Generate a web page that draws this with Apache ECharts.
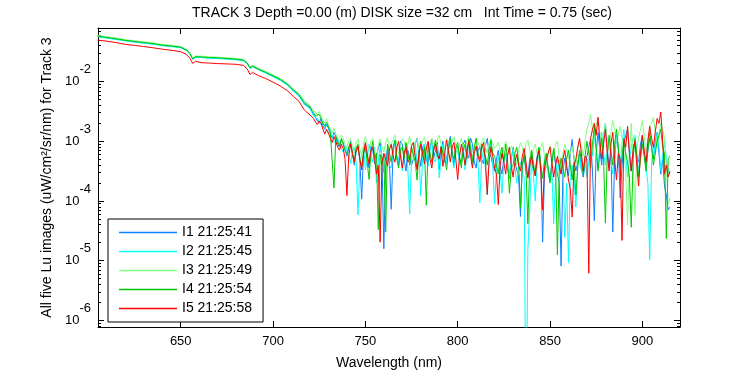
<!DOCTYPE html>
<html>
<head>
<meta charset="utf-8">
<title>Track 3 Lu</title>
<script src="https://cdn.jsdelivr.net/npm/echarts@6.0.0/dist/echarts.min.js"></script>
<style>
html,body{margin:0;padding:0;background:#fff}
#main{width:750px;height:375px}
</style>
</head>
<body>
<div id="main"></div>
<script>
// wavelength (nm): coarse where the curves are smooth, 1 nm where they are noisy
var wavelength = [605,610,615,620,625,630,635,640,645,650,653,655,656.5,658,661,665,670,675,680,684,686,687.5,689,692,696,700,704,708,711,714,717,720,
  721,722,723,724,725,726,727,728,729,730,731,732,733,734,735,736,737,738,739,740,
  741,742,743,744,745,746,747,748,749,750,751,752,753,754,755,756,757,758,759,760,
  761,762,763,764,765,766,767,768,769,770,771,772,773,774,775,776,777,778,779,780,
  781,782,783,784,785,786,787,788,789,790,791,792,793,794,795,796,797,798,799,800,
  801,802,803,804,805,806,807,808,809,810,811,812,813,814,815,816,817,818,819,820,
  821,822,823,824,825,826,827,828,829,830,831,832,833,834,835,836,837,838,839,840,
  841,842,843,844,845,846,847,848,849,850,851,852,853,854,855,856,857,858,859,860,
  861,862,863,864,865,866,867,868,869,870,871,872,873,874,875,876,877,878,879,880,
  881,882,883,884,885,886,887,888,889,890,891,892,893,894,895,896,897,898,899,900,
  901,902,903,904,905,906,907,908,909,910,911,912,913,914,915]

// log10 of Lu, one array per image
var logI1 = [-1.245,-1.268,-1.290,-1.314,-1.335,-1.352,-1.370,-1.394,-1.410,-1.430,-1.475,-1.535,-1.625,-1.590,-1.592,-1.603,-1.609,-1.620,-1.630,-1.648,-1.695,-1.774,-1.748,-1.795,-1.850,-1.912,-1.972,-2.058,-2.150,-2.232,-2.370,-2.440,
  -2.50,-2.56,-2.60,-2.66,-2.70,-2.62,-2.74,-2.80,-2.72,-2.78,-2.88,-2.95,-2.85,-2.92,-3.05,-3.10,-2.98,-3.02,-3.15,-3.25,
  -3.12,-3.00,-3.20,-3.40,-3.18,-3.10,-3.30,-3.97,-3.22,-3.05,-3.28,-3.45,-3.08,-3.15,-3.38,-3.35,-3.12,-3.02,-3.30,-4.80,
  -3.40,-3.10,-3.32,-4.14,-3.20,-2.98,-3.25,-3.40,-3.00,-3.05,-3.30,-3.50,-3.15,-3.12,-3.40,-3.30,-3.05,-2.95,-3.20,-3.42,
  -3.10,-3.05,-3.32,-3.38,-3.10,-2.97,-3.28,-3.25,-3.02,-3.48,-3.22,-3.00,-3.35,-3.30,-3.05,-2.92,-3.18,-3.40,-3.12,-3.08,
  -3.30,-3.35,-3.05,-2.98,-3.22,-3.28,-2.95,-3.05,-3.35,-3.45,-3.15,-3.10,-3.30,-3.38,-3.08,-2.95,-3.20,-3.25,-3.40,-3.50,
  -3.30,-3.15,-3.42,-3.55,-3.25,-3.20,-3.45,-3.62,-3.30,-3.10,-3.35,-3.48,-3.60,-4.26,-3.40,-3.25,-3.50,-3.60,-3.30,-3.18,
  -3.45,-3.50,-3.25,-3.12,-3.40,-4.69,-3.55,-3.30,-3.45,-3.65,-3.35,-3.15,-3.40,-3.55,-3.70,-5.09,-3.50,-3.28,-3.45,-3.58,
  -3.20,-2.97,-3.30,-3.50,-3.35,-3.20,-3.45,-3.60,-3.40,-3.25,-3.10,-2.95,-3.50,-4.33,-3.20,-2.85,-3.15,-3.40,-2.95,-2.70,
  -3.10,-3.45,-3.20,-4.52,-3.30,-2.90,-3.15,-3.95,-3.40,-3.05,-2.90,-2.80,-3.20,-3.50,-3.10,-3.00,-3.25,-3.35,-3.05,-2.90,
  -3.20,-3.45,-3.15,-2.95,-3.10,-3.30,-3.00,-2.85,-3.20,-3.55,-3.30,-3.75,-3.90,-4.15,-4.10]
var logI2 = [-1.250,-1.272,-1.296,-1.320,-1.340,-1.358,-1.375,-1.400,-1.415,-1.436,-1.480,-1.540,-1.630,-1.596,-1.598,-1.608,-1.614,-1.625,-1.636,-1.654,-1.700,-1.780,-1.755,-1.802,-1.858,-1.920,-1.982,-2.068,-2.160,-2.245,-2.390,-2.455,
  -2.52,-2.58,-2.55,-2.62,-2.68,-2.72,-2.66,-2.76,-2.82,-2.88,-2.80,-2.92,-3.00,-3.05,-2.95,-3.04,-3.12,-3.18,-3.08,-3.05,
  -3.22,-3.38,-3.15,-3.10,-3.35,-4.23,-3.40,-3.20,-3.10,-3.48,-3.30,-3.05,-3.22,-3.35,-3.10,-3.70,-3.35,-3.08,-3.25,-3.52,
  -3.20,-3.15,-3.40,-3.45,-3.10,-3.02,-3.30,-3.35,-3.12,-3.50,-3.25,-3.05,-3.45,-4.22,-3.30,-3.12,-3.02,-3.40,-3.20,-3.91,
  -3.30,-3.05,-3.25,-3.42,-3.15,-3.00,-3.30,-3.35,-3.05,-3.61,-3.28,-3.05,-3.20,-3.38,-3.12,-2.98,-3.30,-3.45,-3.20,-3.10,
  -3.40,-3.30,-3.05,-3.48,-3.25,-3.02,-3.20,-3.40,-3.15,-3.10,-3.35,-4.03,-3.30,-3.15,-3.45,-3.90,-3.25,-3.05,-3.40,-4.05,
  -3.45,-3.25,-3.50,-3.87,-3.35,-3.20,-3.40,-3.60,-3.30,-3.15,-3.45,-3.70,-3.40,-3.35,-3.55,-3.60,-8.00,-4.82,-4.15,-3.30,
  -3.55,-4.00,-3.40,-3.20,-3.50,-3.62,-3.30,-3.25,-3.55,-3.68,-3.45,-4.38,-3.60,-3.30,-3.50,-3.55,-3.35,-4.61,-3.70,-5.03,
  -3.60,-3.40,-3.65,-4.10,-3.40,-3.25,-3.50,-3.55,-3.30,-3.60,-3.35,-3.05,-3.25,-2.90,-3.15,-3.45,-3.10,-2.85,-3.20,-3.40,
  -3.15,-2.95,-3.30,-3.55,-3.20,-2.88,-3.10,-3.40,-3.05,-2.80,-3.25,-3.60,-3.30,-3.10,-2.95,-2.90,-3.20,-3.50,-3.25,-3.00,
  -3.20,-3.45,-3.70,-4.99,-3.40,-3.05,-3.20,-2.85,-3.10,-3.50,-3.25,-3.00,-3.30,-3.50,-3.55]
var logI3 = [-1.228,-1.250,-1.272,-1.298,-1.318,-1.336,-1.352,-1.378,-1.392,-1.412,-1.458,-1.518,-1.608,-1.572,-1.576,-1.585,-1.592,-1.602,-1.612,-1.630,-1.678,-1.756,-1.730,-1.776,-1.832,-1.890,-1.950,-2.035,-2.125,-2.200,-2.320,-2.400,
  -2.45,-2.48,-2.52,-2.56,-2.50,-2.58,-2.64,-2.70,-2.62,-2.72,-2.80,-2.86,-2.78,-2.88,-2.95,-2.98,-2.90,-2.96,-3.05,-3.10,
  -3.00,-2.95,-3.08,-3.20,-3.02,-2.96,-3.12,-3.25,-3.05,-2.92,-3.05,-3.15,-3.00,-2.95,-3.20,-3.28,-3.05,-2.96,-3.10,-3.18,
  -3.02,-2.94,-3.12,-3.10,-2.98,-2.90,-3.05,-3.22,-3.08,-2.95,-3.00,-3.15,-3.05,-2.92,-3.10,-3.30,-3.00,-2.96,-3.15,-3.12,
  -3.00,-2.93,-3.10,-3.20,-3.02,-2.95,-3.12,-3.08,-2.98,-2.90,-3.05,-3.25,-3.10,-2.96,-3.02,-3.12,-3.00,-2.92,-3.08,-3.22,
  -3.05,-2.95,-3.10,-3.15,-3.00,-2.92,-3.05,-3.28,-3.10,-2.96,-3.02,-3.10,-3.00,-2.94,-3.08,-3.20,-3.05,-2.95,-3.02,-3.12,
  -3.08,-3.02,-3.15,-3.30,-3.10,-3.00,-3.12,-3.22,-3.08,-3.05,-3.20,-3.40,-3.15,-3.02,-3.10,-3.25,-3.05,-2.98,-3.15,-3.35,
  -3.12,-3.05,-3.20,-3.28,-3.10,-3.02,-3.25,-3.45,-3.20,-3.08,-3.15,-3.25,-3.05,-3.00,-3.30,-3.50,-3.20,-3.05,-3.15,-3.30,
  -3.20,-3.10,-3.25,-3.40,-3.15,-2.98,-3.10,-3.25,-3.00,-2.80,-2.70,-2.55,-2.80,-2.95,-2.75,-2.60,-2.85,-3.10,-2.90,-2.70,
  -2.95,-3.15,-2.85,-2.65,-2.80,-3.00,-2.90,-2.75,-2.95,-3.20,-3.50,-4.40,-3.20,-2.70,-3.30,-4.24,-3.10,-2.95,-2.80,-2.65,
  -2.90,-3.20,-2.95,-2.75,-2.70,-2.60,-2.85,-3.10,-2.90,-2.70,-2.80,-2.95,-3.40,-4.05,-3.95]
var logI4 = [-1.240,-1.262,-1.285,-1.310,-1.330,-1.348,-1.365,-1.390,-1.405,-1.425,-1.470,-1.530,-1.620,-1.585,-1.588,-1.598,-1.604,-1.615,-1.625,-1.643,-1.690,-1.769,-1.743,-1.790,-1.845,-1.905,-1.965,-2.050,-2.140,-2.220,-2.350,-2.420,
  -2.48,-2.52,-2.58,-2.60,-2.55,-2.62,-2.70,-2.75,-2.68,-2.76,-2.85,-2.85,-3.78,-2.92,-3.00,-3.08,-2.95,-3.05,-3.15,-3.20,
  -3.10,-3.02,-3.22,-3.35,-3.12,-3.05,-3.30,-3.42,-3.20,-3.10,-3.35,-3.64,-3.20,-3.00,-3.30,-3.20,-4.48,-3.22,-3.40,-3.25,
  -4.52,-3.05,-3.20,-3.35,-3.10,-2.98,-3.28,-3.45,-3.15,-3.10,-3.30,-3.02,-3.20,-3.40,-3.10,-3.08,-3.35,-3.65,-3.20,-3.00,
  -3.25,-3.10,-4.07,-3.05,-3.20,-3.35,-3.10,-2.98,-3.25,-3.30,-3.08,-3.05,-3.30,-3.48,-3.15,-2.96,-3.20,-3.30,-3.10,-3.02,
  -3.25,-3.45,-3.15,-3.05,-3.30,-2.96,-3.12,-3.35,-3.10,-2.95,-3.20,-3.30,-3.05,-3.02,-3.25,-3.40,-3.15,-2.98,-3.20,-3.25,
  -3.40,-3.55,-3.25,-3.10,-3.35,-3.05,-3.30,-3.87,-3.45,-3.40,-3.20,-3.10,-3.35,-4.11,-3.40,-3.22,-3.50,-4.38,-3.45,-3.15,
  -3.35,-3.58,-3.30,-3.10,-3.40,-3.62,-3.35,-3.20,-3.45,-3.70,-3.40,-3.12,-3.35,-4.90,-3.50,-3.28,-3.45,-3.60,-3.30,-3.15,
  -3.40,-3.65,-3.35,-3.90,-3.45,-3.15,-3.30,-3.55,-3.25,-3.00,-3.20,-3.45,-3.05,-2.75,-3.10,-3.50,-3.20,-2.95,-3.30,-4.37,
  -3.25,-2.90,-3.15,-3.40,-3.05,-2.80,-3.10,-3.55,-3.25,-3.00,-3.20,-3.35,-3.60,-4.44,-3.30,-2.95,-3.25,-3.60,-3.30,-3.05,
  -3.25,-3.50,-3.15,-2.85,-3.10,-3.40,-3.20,-3.00,-2.90,-2.80,-3.10,-3.20,-4.63,-3.30,-3.25]
var logI5 = [-1.307,-1.325,-1.348,-1.378,-1.395,-1.415,-1.435,-1.458,-1.478,-1.500,-1.545,-1.610,-1.698,-1.660,-1.685,-1.690,-1.700,-1.705,-1.712,-1.731,-1.790,-1.880,-1.850,-1.900,-1.950,-2.010,-2.075,-2.160,-2.250,-2.330,-2.480,-2.560,
  -2.58,-2.62,-2.68,-2.72,-2.66,-2.70,-2.80,-2.88,-2.80,-2.86,-2.95,-3.02,-2.92,-3.00,-3.10,-3.15,-3.05,-3.12,-3.30,-3.91,
  -3.25,-3.05,-3.20,-3.35,-3.15,-3.08,-3.30,-3.48,-3.20,-3.02,-3.20,-3.38,-3.15,-3.10,-3.30,-3.55,-3.40,-4.69,-3.35,-3.20,
  -3.30,-3.42,-3.15,-3.05,-3.25,-3.35,-3.10,-3.00,-3.25,-3.45,-3.20,-3.10,-3.35,-3.30,-3.08,-3.02,-3.25,-3.48,-3.22,-3.05,
  -3.20,-3.38,-3.12,-3.00,-3.30,-3.45,-3.15,-3.05,-3.22,-3.30,-3.10,-3.42,-3.20,-2.98,-3.15,-3.35,-3.10,-3.02,-3.30,-3.64,
  -3.25,-3.05,-3.20,-3.40,-3.15,-3.00,-3.25,-3.45,-3.20,-3.08,-3.25,-3.35,-3.10,-3.02,-3.30,-3.89,-3.35,-3.10,-3.25,-3.45,
  -3.55,-4.06,-3.40,-3.20,-3.35,-3.55,-3.25,-3.10,-3.40,-3.60,-3.35,-3.22,-3.40,-3.50,-3.25,-3.12,-3.35,-3.62,-3.40,-3.25,
  -3.45,-3.58,-3.30,-3.15,-3.50,-4.15,-3.45,-3.30,-3.20,-3.10,-3.35,-3.60,-3.40,-3.25,-3.40,-3.55,-3.30,-3.15,-3.40,-3.65,
  -3.80,-4.27,-3.40,-3.30,-3.10,-2.95,-3.20,-3.50,-3.25,-3.30,-5.21,-2.95,-2.80,-2.70,-2.90,-2.60,-3.00,-3.30,-3.05,-2.80,
  -3.20,-3.50,-3.05,-2.85,-3.30,-3.65,-3.20,-3.30,-4.66,-2.95,-3.10,-2.75,-3.20,-3.50,-3.15,-3.00,-3.40,-3.75,-3.20,-2.90,
  -3.15,-3.35,-3.00,-2.75,-2.95,-3.10,-2.85,-2.62,-2.70,-2.51,-3.00,-3.55,-3.40,-3.60,-3.50]

var names = ['I1 21:25:41','I2 21:25:45','I3 21:25:49','I4 21:25:54','I5 21:25:58']
var colors = ['#0f80ff','#00ffff','#80ff80','#00c800','#ff0000']
var xTicks = [650,700,750,800,850,900]
var yDecades = [-6,-5,-4,-3,-2]

var xMin = 605.2, xMax = 920.4
var yMin = -6.11, yMax = -1.104

// minor log ticks 2..9 in every decade
var yMinor = []
for (var n = -7; n <= -2; n++) {
  for (var k = 2; k <= 9; k++) {
    var v = n + Math.log10(k)
    if (v > yMin && v < yMax) yMinor.push(v)
  }
}

function pairs(arr) {
  var out = []
  for (var i = 0; i < wavelength.length; i++) out.push([wavelength[i], arr[i]])
  return out
}

var font = 'Liberation Sans'
var black = '#000'

function yAx(pos, ticks, len, line) {
  return {
    type: 'value', position: pos, min: yMin, max: yMax,
    axisLine: {show: line, lineStyle: {color: black, width: 1}},
    axisTick: {show: true, inside: true, length: len, customValues: ticks, lineStyle: {color: black}},
    axisLabel: {show: false},
    splitLine: {show: false}
  }
}

var yLeft = yAx('left', yDecades, 6, true)
yLeft.axisLabel = {
  show: true, customValues: yDecades, margin: 7,
  formatter: function (v) { return '{b|10}{e|' + Math.round(v) + '}' },
  rich: {
    b: {fontFamily: font, fontSize: 13, color: black, verticalAlign: 'middle', padding: [12, 0, 12, 0]},
    e: {fontFamily: font, fontSize: 13, color: black, verticalAlign: 'top'}
  }
}
yLeft.name = 'All five Lu images (uW/cm²/sr/nm) for Track 3'
yLeft.nameLocation = 'middle'
yLeft.nameGap = 30
yLeft.nameTextStyle = {fontFamily: font, fontSize: 14, color: black}

var series = []
var all = [logI1, logI2, logI3, logI4, logI5]
for (var s = 0; s < all.length; s++) {
  series.push({
    name: names[s], type: 'line', data: pairs(all[s]),
    symbol: 'none', xAxisIndex: 0, yAxisIndex: 0,
    lineStyle: {color: colors[s], width: 1},
    itemStyle: {color: colors[s]},
    animation: false
  })
}

var chart = echarts.init(document.getElementById('main'))
chart.setOption({
  backgroundColor: '#fff',
  animation: false,
  title: {
    text: 'TRACK 3 Depth =0.00 (m) DISK size =32 cm   Int Time = 0.75 (sec)',
    left: 192, top: 6, padding: 0,
    textStyle: {fontFamily: font, fontSize: 14, fontWeight: 'normal', color: black}
  },
  grid: {left: 98, right: 70, top: 28, bottom: 44, containLabel: false},
  legend: {
    orient: 'vertical', left: 108, top: 219,
    padding: [6, 11, 6, 11], itemGap: 4, itemWidth: 58, itemHeight: 1.6,
    icon: 'rect',
    borderColor: black, borderWidth: 1, borderRadius: 0, backgroundColor: '#fff',
    textStyle: {fontFamily: font, fontSize: 14, lineHeight: 15, color: black},
    data: names
  },
  xAxis: [{
    type: 'value', position: 'bottom', min: xMin, max: xMax,
    axisLine: {show: true, onZero: false, lineStyle: {color: black}},
    axisTick: {show: true, inside: true, length: 6, customValues: xTicks, lineStyle: {color: black}},
    axisLabel: {customValues: xTicks, margin: 8, fontFamily: font, fontSize: 13, color: black},
    splitLine: {show: false},
    name: 'Wavelength (nm)', nameLocation: 'middle', nameGap: 29,
    nameTextStyle: {fontFamily: font, fontSize: 14, color: black}
  }, {
    type: 'value', position: 'top', min: xMin, max: xMax,
    axisLine: {show: true, onZero: false, lineStyle: {color: black}},
    axisTick: {show: true, inside: true, length: 6, customValues: xTicks, lineStyle: {color: black}},
    axisLabel: {show: false},
    splitLine: {show: false}
  }],
  yAxis: [
    yLeft,
    yAx('left', yMinor, 3, false),
    yAx('right', yDecades, 6, true),
    yAx('right', yMinor, 3, false)
  ],
  series: series
})
</script>
</body>
</html>
